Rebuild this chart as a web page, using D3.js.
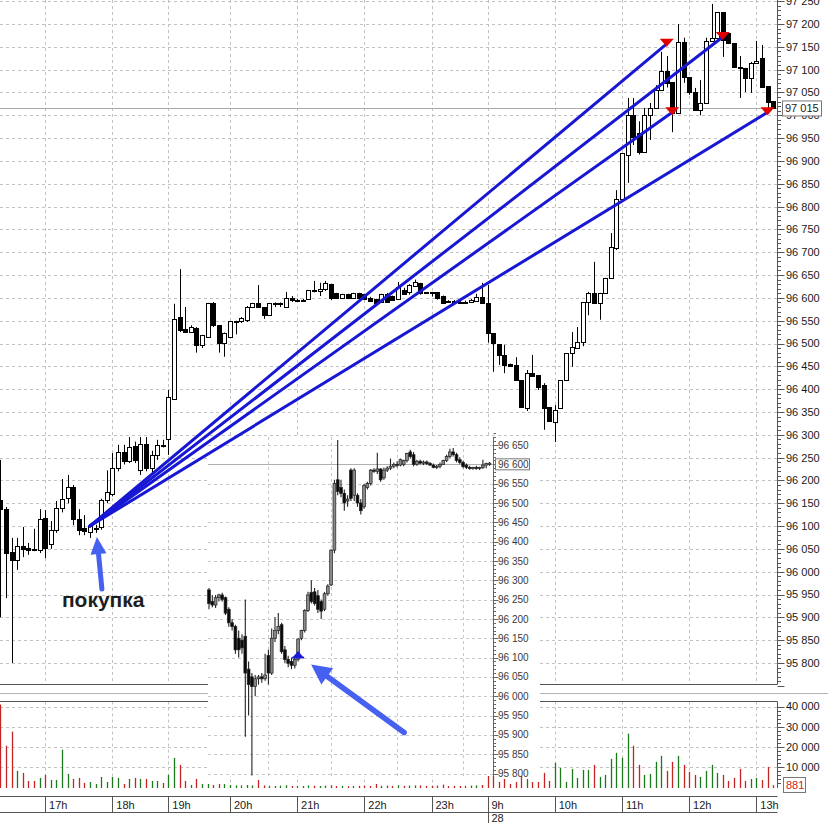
<!DOCTYPE html>
<html><head><meta charset="utf-8">
<script src="https://cdn.jsdelivr.net/npm/d3@7"></script>
<style>body{margin:0;background:#fff}svg{display:block}text{font-family:"Liberation Sans",Arial,sans-serif}</style>
</head><body><svg id="c" width="828" height="823"></svg>
<script>
// ---------- main chart data (5-minute candles) ----------
const opens = [96157,96137,96043,96026,96056,96052,96050,96048,96118,96061,
96092,96140,96161,96185,96115,96096,96087,96094,96098,96157,
96170,96228,96263,96243,96276,96223,96280,96228,96256,96278,
96290,96378,96558,96532,96525,96534,96497,96515,96589,96540,
96502,96515,96547,96549,96551,96580,96589,96580,96562,96589,
96588,96580,96600,96595,96595,96598,96617,96614,96620,96631,
96611,96600,96609,96600,96611,96608,96600,96598,96592,96609,
96605,96598,96618,96613,96626,96633,96612,96612,96613,96605,
96594,96594,96592,96592,96591,96593,96602,96589,96523,96499,
96475,96455,96453,96420,96359,96435,96431,96409,96361,96328,
96359,96420,96479,96490,96503,96591,96611,96589,96611,96644,
96709,96817,96913,97000,96961,96920,97000,97016,97055,97097,
97073,97005,97161,97084,97051,97012,97027,97163,97170,97226,
97180,97158,97106,97104,97082,97115,97126,97064,97031];
const highs = [96245,96142,96074,96074,96098,96063,96094,96137,96135,96111,
96155,96203,96212,96190,96137,96124,96103,96103,96160,96222,
96260,96278,96278,96295,96285,96295,96295,96265,96289,96289,
96398,96587,96663,96580,96540,96536,96519,96589,96591,96540,
96524,96549,96550,96558,96582,96589,96628,96580,96589,96590,
96590,96613,96604,96598,96598,96617,96637,96633,96637,96631,
96611,96609,96609,96611,96611,96609,96602,96598,96609,96611,
96605,96635,96622,96630,96640,96633,96613,96613,96613,96605,
96595,96595,96594,96594,96598,96609,96633,96628,96523,96499,
96497,96456,96470,96420,96442,96475,96431,96413,96361,96365,
96420,96479,96525,96536,96591,96613,96679,96611,96644,96742,
96836,96917,97038,97038,96987,97016,97027,97066,97139,97130,
97073,97200,97170,97084,97060,97077,97170,97244,97226,97226,
97180,97158,97130,97104,97117,97163,97154,97064,97031];
const lows = [95900,95942,95800,96004,96032,96037,96045,96041,96030,96050,
96085,96130,96150,96102,96080,96080,96074,96085,96092,96150,
96165,96220,96235,96238,96238,96212,96220,96212,96245,96272,
96256,96378,96525,96523,96523,96480,96490,96515,96536,96480,
96471,96515,96520,96545,96547,96578,96580,96554,96562,96580,
96580,96580,96591,96591,96591,96598,96612,96604,96615,96595,
96600,96598,96600,96600,96598,96598,96591,96589,96589,96591,
96596,96596,96607,96607,96624,96607,96609,96603,96596,96587,
96589,96589,96588,96588,96589,96591,96589,96502,96438,96453,
96435,96449,96420,96361,96352,96427,96398,96311,96330,96284,
96359,96420,96449,96490,96494,96562,96589,96552,96611,96644,
96705,96817,96852,96935,96914,96920,96946,97016,97055,97061,
96963,97005,97071,97045,97012,97000,97027,97163,97170,97128,
97156,97104,97038,97051,97049,97115,97062,97012,97014];
const closes = [96137,96041,96026,96056,96050,96048,96047,96116,96052,96092,
96140,96160,96185,96115,96091,96089,96100,96096,96157,96175,
96228,96263,96243,96274,96245,96280,96228,96256,96278,96275,
96383,96554,96530,96525,96536,96497,96519,96589,96540,96502,
96524,96549,96549,96555,96580,96589,96580,96562,96589,96589,
96589,96600,96595,96596,96596,96617,96615,96619,96633,96600,
96600,96609,96600,96611,96600,96598,96593,96589,96608,96591,
96596,96624,96609,96628,96635,96611,96611,96611,96600,96589,
96593,96593,96591,96591,96596,96602,96589,96523,96501,96475,
96453,96451,96420,96361,96435,96429,96405,96359,96330,96354,
96420,96479,96492,96503,96591,96611,96589,96611,96644,96711,
96817,96917,97000,96952,96920,97000,97016,97055,97097,97071,
97005,97161,97084,97051,97012,97027,97163,97170,97226,97165,
97158,97106,97104,97082,97115,97119,97062,97029,97015];
const volumes = [41000,20500,27500,8000,7000,3000,3000,4500,6000,3500,
3500,18500,6500,4000,4500,2000,2500,1500,5000,2500,
5000,4500,1500,4000,4500,4000,4000,3000,3000,2000,
6000,14500,11000,3000,1000,4000,1500,1500,1000,1500,
1500,1000,800,800,1000,800,3500,800,600,500,
700,900,500,400,500,800,600,500,700,900,
500,600,400,500,600,700,500,1500,600,700,
500,900,600,700,800,800,500,600,700,1200,
500,600,500,600,700,800,1000,6500,6500,2500,
4000,1500,2500,6500,4000,2500,2500,7000,3000,12000,
9500,2500,9000,4500,8500,8500,11000,5000,6000,14000,
17000,14500,26500,20500,11000,6000,6500,12500,15500,8000,
12500,15500,11000,7500,6000,5000,8000,11000,7000,6000,
3000,4500,9000,3000,4000,4500,3500,10000,881];

const hourLabels = ["17h","18h","19h","20h","21h","22h","23h","9h","10h","11h","12h","13h"];
const hourIndex  = [8,20,30,41,53,65,77,87,99,111,123,135];
const dateLabel = "28", dateIndex = 87;
const volumeTicks = [10000,20000,30000,40000];

// trades
const buyIndex = 16, buyPrice = 96100;
const sellIndex = [119,120,129,137];
const sellPrice = [97150,97000,97165,97000];
const lastPrice = 97015;
const buyText = "покупка";

// ---------- inset chart data ----------
const insetOpen = [96275,96245,96236,96255,96262,96255,96225,96190,96180,96150,
96145,96155,96070,96050,96025,96045,96050,96045,96105,96060,
96150,96170,96185,96120,96095,96090,96080,96095,96150,96170,
96222,96268,96270,96260,96245,96225,96265,96288,96378,96560,
96540,96525,96505,96585,96520,96520,96500,96490,96540,96550,
96585,96582,96588,96565,96585,96590,96595,96600,96598,96600,
96610,96632,96625,96600,96608,96603,96606,96602,96598,96592,
96595,96600,96610,96620,96632,96625,96612,96605,96598,96592,
96590,96592,96590,96592,96598,96600];
const insetHigh = [96280,96262,96262,96265,96268,96258,96230,96200,96185,96170,
96160,96250,96090,96060,96055,96055,96060,96110,96120,96175,
96205,96215,96190,96130,96105,96100,96105,96150,96172,96225,
96270,96300,96280,96275,96250,96270,96290,96380,96560,96663,
96560,96535,96520,96590,96590,96525,96510,96550,96555,96588,
96590,96630,96590,96592,96595,96615,96605,96608,96615,96612,
96630,96638,96632,96612,96612,96610,96610,96606,96602,96598,
96605,96612,96625,96640,96642,96630,96618,96610,96602,96596,
96594,96596,96594,96612,96604,96606];
const insetLow = [96225,96230,96228,96245,96245,96210,96180,96170,96110,96100,
96110,95895,95950,95795,96000,96030,96035,96040,96030,96055,
96140,96160,96110,96085,96075,96070,96072,96090,96145,96165,
96218,96240,96235,96215,96200,96220,96260,96285,96370,96520,
96515,96480,96490,96505,96505,96490,96470,96485,96535,96545,
96578,96575,96555,96560,96580,96585,96590,96592,96595,96595,
96605,96615,96595,96596,96600,96598,96598,96596,96590,96588,
96590,96598,96606,96615,96620,96605,96600,96590,96588,96586,
96586,96586,96585,96588,96590,96596];
const insetClose = [96240,96236,96255,96262,96250,96215,96190,96180,96120,96120,
96125,96060,96030,96025,96045,96050,96045,96055,96060,96150,
96170,96180,96115,96095,96085,96080,96095,96148,96170,96222,
96262,96245,96240,96225,96220,96265,96285,96378,96550,96530,
96525,96500,96510,96512,96585,96500,96480,96545,96550,96585,
96582,96588,96560,96585,96590,96595,96600,96598,96612,96610,
96628,96620,96600,96608,96603,96606,96602,96598,96592,96595,
96600,96610,96620,96632,96625,96610,96605,96594,96592,96590,
96592,96590,96592,96598,96602,96603];
const insetGridIndex = [18,37,57,77];
const insetLast = 96600;
const insetBuyIndex = 27, insetBuyPrice = 96100;

// ---------- drawing ----------
const svg = d3.select("#c");
const fmt = v => d3.format(",")(v).replace(/,/g, " ");
const GRID = "#c2c2c2", AX = "#555";
const PR = 777.5;
const MAIN_B = 684.5, VOL_T = 701.5, VOL_B = 788, TA_T = 796.5, TA_B = 812.5;

const x  = d3.scaleLinear().domain([0, 138]).range([0.3, 773.1]);
const y  = d3.scaleLinear().domain([95750, 97250]).range([685.8, 1.2]);
const vy = d3.scaleLinear().domain([0, 40000]).range([787, 706.5]);
const px = v => Math.round(v) + 0.5;

const priceTicks = d3.range(95800, 97251, 50);
const priceMinor = d3.range(95750, 97251, 10);

// grids
const gg = svg.append("g").attr("stroke", GRID).attr("stroke-dasharray", "3,3");
gg.selectAll(".hg").data(priceTicks).join("line")
  .attr("x1", 0).attr("x2", PR).attr("y1", d => px(y(d))).attr("y2", d => px(y(d)));
gg.selectAll(".vg").data(hourIndex).join("line")
  .attr("x1", d => px(x(d))).attr("x2", d => px(x(d))).attr("y1", 0).attr("y2", MAIN_B);
gg.selectAll(".vvg").data(hourIndex).join("line")
  .attr("x1", d => px(x(d))).attr("x2", d => px(x(d))).attr("y1", VOL_T).attr("y2", VOL_B);
gg.selectAll(".vhg").data(volumeTicks).join("line")
  .attr("x1", 0).attr("x2", PR).attr("y1", d => px(vy(d))).attr("y2", d => px(vy(d)));

// last price line
svg.append("line").attr("x1", 0).attr("x2", PR).attr("y1", px(y(lastPrice))).attr("y2", px(y(lastPrice)))
  .attr("stroke", "#a8a8a8");

// candles
const data = opens.map((o, i) => ({i, o, h: highs[i], l: lows[i], c: closes[i], v: volumes[i]}));
const cg = svg.append("g");
data.forEach(d => {
  const cx = px(x(d.i));
  cg.append("line").attr("x1", cx).attr("x2", cx).attr("y1", y(d.h)).attr("y2", y(d.l))
    .attr("stroke", "#000").attr("stroke-width", 1);
  const top = Math.round(y(Math.max(d.o, d.c))), bot = Math.round(y(Math.min(d.o, d.c)));
  cg.append("rect").attr("x", cx - 2).attr("y", top + 0.5).attr("width", 4).attr("height", Math.max(1, bot - top))
    .attr("fill", d.c >= d.o ? "#fff" : "#000").attr("stroke", "#000").attr("stroke-width", 1);
});

// volume bars
svg.append("g").selectAll("line").data(data).join("line")
  .attr("x1", d => px(x(d.i))).attr("x2", d => px(x(d.i)))
  .attr("y1", VOL_B).attr("y2", d => vy(d.v))
  .attr("stroke", d => d.c >= d.o ? "#1c7a1c" : "#c42424").attr("stroke-width", 1.3);

// borders / separators
const bg = svg.append("g").attr("stroke", AX).attr("fill", "none");
bg.append("line").attr("x1", 0).attr("x2", PR).attr("y1", MAIN_B).attr("y2", MAIN_B);
svg.append("line").attr("x1", 0).attr("x2", 828).attr("y1", 693.5).attr("y2", 693.5).attr("stroke", "#b4b4b4");
bg.append("line").attr("x1", 0).attr("x2", PR).attr("y1", VOL_T).attr("y2", VOL_T);
bg.append("line").attr("x1", PR).attr("x2", PR).attr("y1", 0).attr("y2", MAIN_B);
bg.append("line").attr("x1", PR).attr("x2", PR).attr("y1", VOL_T).attr("y2", VOL_B);
bg.append("line").attr("x1", 0).attr("x2", PR).attr("y1", TA_T).attr("y2", TA_T);
bg.append("line").attr("x1", 0).attr("x2", PR).attr("y1", TA_B).attr("y2", TA_B);

// price axis
bg.selectAll(".mt").data(priceMinor).join("line")
  .attr("x1", PR).attr("x2", d => d % 50 === 0 ? PR + 7 : PR + 3.5)
  .attr("y1", d => px(y(d))).attr("y2", d => px(y(d)));
svg.append("g").selectAll("text").data(priceTicks).join("text")
  .attr("x", 786).attr("y", d => y(d)).attr("dy", "0.36em")
  .attr("font-size", 11).attr("fill", "#1a1a1a").text(fmt);

// volume axis
const vMinor = d3.range(2000, 40001, 2000);
bg.selectAll(".vt").data(vMinor).join("line")
  .attr("x1", PR).attr("x2", d => d % 10000 === 0 ? PR + 7 : PR + 3.5)
  .attr("y1", d => px(vy(d))).attr("y2", d => px(vy(d)));
svg.append("g").selectAll("text").data(volumeTicks).join("text")
  .attr("x", 786).attr("y", d => vy(d)).attr("dy", "0.36em")
  .attr("font-size", 11).attr("fill", "#1a1a1a").text(fmt);

// time axis
bg.selectAll(".tt").data(hourIndex).join("line")
  .attr("x1", d => px(x(d))).attr("x2", d => px(x(d)))
  .attr("y1", TA_T).attr("y2", d => d === dateIndex ? 823 : TA_B);
svg.append("g").selectAll("text").data(hourIndex).join("text")
  .attr("x", d => x(d) + 4).attr("y", 808.5).attr("font-size", 11).attr("fill", "#1a1a1a")
  .text((d, i) => hourLabels[i]);
svg.append("text").attr("x", x(dateIndex) + 4).attr("y", 822).attr("font-size", 11).attr("fill", "#1a1a1a").text(dateLabel);

// ---------- inset ----------
const IL = 208, IT = 437, IR = 540, IB = 776, IAX = 493.5;
const xi = d3.scaleLinear().domain([0, 85]).range([209, 489.5]);
const yi = d3.scaleLinear().domain([95800, 96650]).range([773.5, 445]);
const ins = svg.append("g");
ins.append("rect").attr("x", IL).attr("y", IT).attr("width", IR - IL).attr("height", IB - IT).attr("fill", "#fff");
const iTicks = d3.range(95800, 96651, 50);
const iMinor = d3.range(95800, 96681, 10);
const ig = ins.append("g").attr("stroke", "#c8c8c8").attr("stroke-dasharray", "3,3");
ig.selectAll("line.h").data(iTicks).join("line")
  .attr("x1", IL).attr("x2", IAX).attr("y1", d => px(yi(d))).attr("y2", d => px(yi(d)));
ig.selectAll("line.v").data(insetGridIndex).join("line")
  .attr("x1", d => px(xi(d))).attr("x2", d => px(xi(d))).attr("y1", IT).attr("y2", IB);
ins.append("line").attr("x1", IL).attr("x2", IAX).attr("y1", px(yi(insetLast))).attr("y2", px(yi(insetLast)))
  .attr("stroke", "#b0b0b0");
insetOpen.forEach((o, j) => {
  const c = insetClose[j], cx = xi(j);
  ins.append("line").attr("x1", cx).attr("x2", cx).attr("y1", yi(insetHigh[j])).attr("y2", yi(insetLow[j]))
    .attr("stroke", "#222").attr("stroke-width", 1.1);
  const t = yi(Math.max(o, c)), b = yi(Math.min(o, c));
  ins.append("rect").attr("x", cx - 1.4).attr("y", t).attr("width", 2.8).attr("height", Math.max(1.2, b - t))
    .attr("fill", c >= o ? "#8a8a8a" : "#0a0a0a").attr("stroke", "#222").attr("stroke-width", 0.7);
});
const iax = ins.append("g").attr("stroke", "#666");
iax.append("line").attr("x1", IAX).attr("x2", IAX).attr("y1", IT).attr("y2", IB);
iax.selectAll("line.t").data(iMinor).join("line")
  .attr("x1", IAX).attr("x2", d => d % 50 === 0 ? IAX + 5 : IAX + 2.5)
  .attr("y1", d => px(yi(d))).attr("y2", d => px(yi(d)));
ins.append("g").selectAll("text").data(iTicks).join("text")
  .attr("x", 498).attr("y", d => yi(d)).attr("dy", "0.36em").attr("font-size", 10).attr("fill", "#3a3a3a").text(fmt);
ins.append("rect").attr("x", 495.5).attr("y", yi(insetLast) - 5.5).attr("width", 34).attr("height", 11)
  .attr("fill", "#fff").attr("stroke", "#777");
ins.append("text").attr("x", 498).attr("y", yi(insetLast)).attr("dy", "0.36em").attr("font-size", 10).attr("fill", "#3a3a3a").text(fmt(insetLast));
{
  const bx = xi(insetBuyIndex), by = yi(insetBuyPrice);
  ins.append("path").attr("d", `M${bx - 5.5},${by} L${bx + 5.5},${by} L${bx},${by - 6.5} Z`).attr("fill", "#1a1ad6");
  ins.append("line").attr("x1", bx - 6).attr("x2", bx + 6).attr("y1", by).attr("y2", by).attr("stroke", "#1a1ad6").attr("stroke-width", 1.8);
}

// ---------- trades ----------
const bxp = x(buyIndex), byp = y(buyPrice);
const tg = svg.append("g");
sellIndex.forEach((si, k) => {
  const sx = x(si), sy = y(sellPrice[k]);
  tg.append("line").attr("x1", bxp).attr("y1", byp).attr("x2", sx).attr("y2", sy - 3)
    .attr("stroke", "#1717d4").attr("stroke-width", 3).attr("stroke-linecap", "round");
});
sellIndex.forEach((si, k) => {
  const sx = x(si), sy = y(sellPrice[k]);
  tg.append("path").attr("d", `M${sx - 7},${sy - 8} L${sx + 7},${sy - 8} L${sx},${sy} Z`).attr("fill", "#e00000");
});

// arrows
function arrow(x1, y1, x2, y2, w, hl, hw, col) {
  const dx = x2 - x1, dy = y2 - y1, L = Math.hypot(dx, dy), ux = dx / L, uy = dy / L;
  const bx = x2 - ux * hl, by = y2 - uy * hl, nx = -uy, ny = ux;
  svg.append("line").attr("x1", x1).attr("y1", y1).attr("x2", bx + ux * 2).attr("y2", by + uy * 2)
    .attr("stroke", col).attr("stroke-width", w).attr("stroke-linecap", "round");
  svg.append("path").attr("d", `M${x2},${y2} L${bx + nx * hw / 2},${by + ny * hw / 2} L${bx - nx * hw / 2},${by - ny * hw / 2} Z`)
    .attr("fill", col);
}
const ARC = "#4660f0";
arrow(bxp + 12, byp + 63, bxp + 7, byp + 11, 5, 17, 16, ARC);
const ibx = xi(insetBuyIndex), iby = yi(insetBuyPrice);
arrow(ibx + 106, iby + 75, ibx + 13, iby + 7, 5.5, 20, 20, ARC);

svg.append("text").attr("x", bxp - 28).attr("y", byp + 81).attr("font-size", 21).attr("font-weight", "bold")
  .attr("fill", "#1e1e1e").text(buyText);

// value boxes on the right
svg.append("rect").attr("x", 782.5).attr("y", y(lastPrice) - 7.5).attr("width", 39).attr("height", 15)
  .attr("fill", "#fff").attr("stroke", "#777");
svg.append("text").attr("x", 785).attr("y", y(lastPrice)).attr("dy", "0.36em").attr("font-size", 11).attr("fill", "#1a1a1a").text(fmt(lastPrice));
const lastVol = volumes[volumes.length - 1];
svg.append("rect").attr("x", 783.5).attr("y", 777.5).attr("width", 22).attr("height", 15)
  .attr("fill", "#fff").attr("stroke", "#777");
svg.append("text").attr("x", 786).attr("y", 785).attr("dy", "0.36em").attr("font-size", 11).attr("fill", "#cc2222").text(fmt(lastVol));
</script></body></html>
